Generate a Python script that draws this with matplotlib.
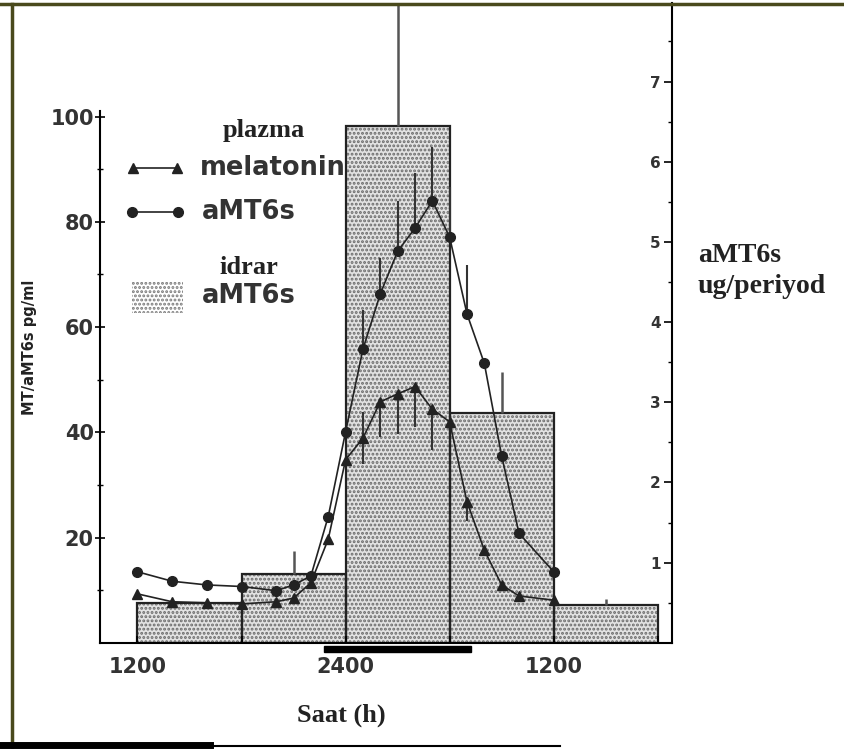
import matplotlib
matplotlib.use('Agg')
import matplotlib.pyplot as plt
from matplotlib.patches import Rectangle
from matplotlib.lines import Line2D
from matplotlib.ticker import FixedLocator

# ---------------- data ----------------
hours = [12, 14, 16, 18, 20, 21, 22, 23, 24, 25, 26, 27, 28, 29, 30, 31, 32, 33, 34, 36]
melatonin = [9.3, 7.8, 7.6, 7.4, 7.8, 8.5, 11.4, 19.7, 34.8, 38.9, 45.8, 47.3, 48.7, 44.4,
             42.0, 26.8, 17.6, 11.0, 8.9, 8.1]
melatonin_err_low = [0, 0, 0, 0, 0, 0, 0, 0, 0, 5, 6.7, 7.6, 7.7, 7.7, 0, 3.6, 0, 0, 0, 0]
melatonin_err_up = [0, 0, 0, 0, 0, 0, 0, 0, 0, 5, 0, 0, 0, 0, 0, 0, 0, 0, 0, 0]
amt6s_plasma = [13.5, 11.7, 11.0, 10.7, 9.9, 11.0, 12.7, 24.0, 40.1, 55.8, 66.3, 74.4, 78.8,
                84.0, 77.1, 62.5, 53.1, 35.5, 20.8, 13.5]
amt6s_err_up = [0, 0, 0, 0, 0, 0, 0, 0, 0, 7.4, 6.9, 9.5, 10.5, 10.3, 9.6, 9.3, 0, 0, 0, 0]

urine_period_start = [12, 18, 24, 30, 36]
urine_period_len = 6
urine_amt6s = [0.50, 0.86, 6.45, 2.86, 0.47]
urine_err_up = [0, 0.28, 1.6, 0.52, 0.08]

dark_period = [22.75, 31.25]

xtick_pos = [12, 18, 24, 30, 36, 42]
xtick_labels = ['1200', '', '2400', '', '1200', '']
left_ticks = [20, 40, 60, 80, 100]
left_minor = [10, 30, 50, 70, 90]
right_ticks = [1, 2, 3, 4, 5, 6, 7]
right_minor = [0.5, 1.5, 2.5, 3.5, 4.5, 5.5, 6.5, 7.5]

# ---------------- figure ----------------
W, H = 845, 749
fig = plt.figure(figsize=(W / 100, H / 100), dpi=100, facecolor='white')


def fx(px):
    return px / W


def fy(py):
    return 1 - py / H


ax = fig.add_axes([fx(100), fy(642.8), fx(672) - fx(100), (642.8 - 3) / H])
ax2 = ax.twinx()
ax.set_zorder(ax2.get_zorder() + 1)
ax.patch.set_visible(False)

ax.set_xlim(9.84, 42.82)
ax.set_ylim(0, 121.6)
ax2.set_ylim(0, 7.98)

# urine bars (right axis)
centers = [s + urine_period_len / 2 for s in urine_period_start]
plt.rcParams['hatch.color'] = '#6a6a6a'
plt.rcParams['hatch.linewidth'] = 1.4
ax2.bar(centers, urine_amt6s, width=urine_period_len, color='#e2e2e2', hatch='....',
        edgecolor='#6a6a6a', linewidth=0, zorder=2)
ax2.bar(centers, urine_amt6s, width=urine_period_len, fill=False, edgecolor='#222222',
        linewidth=1.6, zorder=3)
ax2.errorbar(centers, urine_amt6s, yerr=[[0] * len(urine_err_up), urine_err_up], fmt='none',
             ecolor='#555555', elinewidth=1.8, capsize=0, zorder=4)

# plasma lines (left axis)
ax.errorbar(hours, amt6s_plasma, yerr=[[0] * len(hours), amt6s_err_up], fmt='none',
            ecolor='#333333', elinewidth=1.5, capsize=0, zorder=3)
ax.errorbar(hours, melatonin, yerr=[melatonin_err_low, melatonin_err_up], fmt='none',
            ecolor='#333333', elinewidth=1.5, capsize=0, zorder=3)
ax.plot(hours, amt6s_plasma, color='#222222', lw=1.2, marker='o', ms=7, zorder=4)
ax.plot(hours, melatonin, color='#222222', lw=1.2, marker='^', ms=6.5, zorder=4)

# dark period bar
ax.add_patch(Rectangle((dark_period[0], -0.0145), dark_period[1] - dark_period[0], 0.009,
                       transform=ax.get_xaxis_transform(), color='black', clip_on=False))

# axes styling
for s in ['top', 'right']:
    ax.spines[s].set_visible(False)
for s in ['top', 'left', 'bottom']:
    ax2.spines[s].set_visible(False)
ax.spines['left'].set_bounds(0, 101)
ax.spines['left'].set_linewidth(1.5)
ax.spines['bottom'].set_linewidth(1.5)
ax2.spines['right'].set_linewidth(1.5)

ax.set_xticks(xtick_pos)
ax.set_xticklabels(xtick_labels)
ax.tick_params(axis='x', direction='in', length=5, width=1.2, pad=10, labelsize=15)
for lb in ax.get_xticklabels():
    lb.set_fontweight('bold')
    lb.set_color('#333333')

ax.yaxis.set_major_locator(FixedLocator(left_ticks))
ax.yaxis.set_minor_locator(FixedLocator(left_minor))
ax.tick_params(axis='y', which='major', direction='inout', length=7, width=1.2, pad=1,
               labelsize=15)
ax.tick_params(axis='y', which='minor', direction='inout', length=4, width=1)
for lb in ax.get_yticklabels():
    lb.set_fontweight('bold')
    lb.set_color('#333333')

ax2.yaxis.set_major_locator(FixedLocator(right_ticks))
ax2.yaxis.set_minor_locator(FixedLocator(right_minor))
ax2.tick_params(axis='y', which='major', direction='in', length=6, width=1.2, pad=-8,
                labelsize=11)
ax2.tick_params(axis='y', which='minor', direction='in', length=3, width=1)
for t in ax2.yaxis.get_major_ticks():
    t.label2.set_horizontalalignment('right')
    t.label2.set_fontweight('bold')
    t.label2.set_color('#333333')

# labels
fig.text(fx(30), fy(347), 'MT/aMT6s pg/ml', rotation=90, ha='center', va='center',
         fontsize=10.5, fontweight='bold', color='#222222')
fig.text(fx(341), fy(715), 'Saat (h)', ha='center', va='center', fontsize=19,
         fontweight='bold', family='Liberation Serif', color='#222222')
fig.text(fx(698), fy(255), 'aMT6s', ha='left', va='center', fontsize=20,
         family='Liberation Serif', fontweight='bold', color='#222222')
fig.text(fx(698), fy(287), 'ug/periyod', ha='left', va='center', fontsize=20,
         family='Liberation Serif', fontweight='bold', color='#222222')

# legend (manual)
fig.text(fx(264), fy(130), 'plazma', ha='center', va='center', fontsize=19,
         family='Liberation Serif', fontweight='bold', color='#222222')
ax2.text(fx(200), fy(168), 'melatonin', ha='left', va='center', fontsize=18.5,
         fontweight='bold', color='#333333', transform=fig.transFigure, zorder=1)
ax2.text(fx(202), fy(212), 'aMT6s', ha='left', va='center', fontsize=18.5,
         fontweight='bold', color='#333333', transform=fig.transFigure, zorder=1)
fig.text(fx(249), fy(267), 'idrar', ha='center', va='center', fontsize=19,
         family='Liberation Serif', fontweight='bold', color='#222222')
fig.text(fx(202), fy(296), 'aMT6s', ha='left', va='center', fontsize=18.5,
         fontweight='bold', color='#333333')
fig.add_artist(Line2D([fx(133), fx(177)], [fy(168), fy(168)], color='#222222', lw=1.2,
                      marker='^', ms=6.5))
fig.add_artist(Line2D([fx(132), fx(178)], [fy(212), fy(212)], color='#222222', lw=1.2,
                      marker='o', ms=7))
fig.add_artist(Rectangle((fx(132), fy(313)), fx(183) - fx(132), (313 - 282) / H,
                         transform=fig.transFigure, facecolor='white', hatch='....',
                         edgecolor='#7a7a7a', linewidth=0))

# scan frame
fig.add_artist(Line2D([0, 1], [fy(4), fy(4)], color='#4a4a1c', lw=2.5))
fig.add_artist(Line2D([fx(12), fx(12)], [0, fy(4)], color='#4a4a1c', lw=2.5))
fig.add_artist(Line2D([0, fx(210)], [fy(745), fy(745)], color='black', lw=5))
fig.add_artist(Line2D([fx(210), fx(560)], [fy(746), fy(746)], color='black', lw=1.5))

fig.savefig('out.png', dpi=100, facecolor='white')
